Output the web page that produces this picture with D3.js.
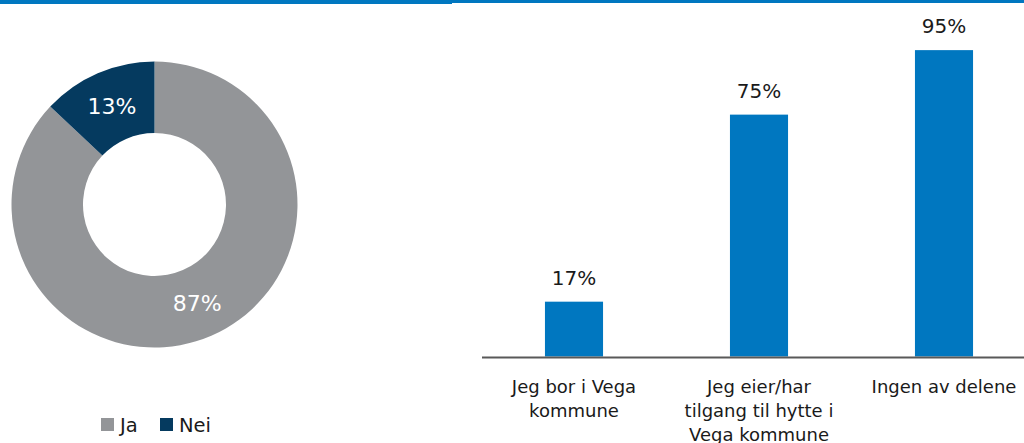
<!DOCTYPE html>
<html>
<head>
<meta charset="utf-8">
<script src="https://cdn.jsdelivr.net/npm/d3@7"></script>
<style>
  html, body { margin: 0; padding: 0; background: #fff; }
  svg { display: block; }
  text { font-family: "DejaVu Sans", "Noto Sans", sans-serif; fill: #1a1a1a; }
</style>
</head>
<body>
<svg id="chart" width="1024" height="443"></svg>
<script>
// Donut data
const donutLabels = ["Ja", "Nei"];
const donutValues = [87, 13];
const donutColors = ["#939598", "#053A5F"];

// Bar data
const barCategories = [
  ["Jeg bor i Vega", "kommune"],
  ["Jeg eier/har", "tilgang til hytte i", "Vega kommune"],
  ["Ingen av delene"]
];
const barValues = [17, 75, 95];
const barColor = "#0077C0";

const svg = d3.select("#chart");

// top accent lines
svg.append("rect").attr("x", 0).attr("y", 0).attr("width", 452).attr("height", 4).attr("fill", barColor);
svg.append("rect").attr("x", 452).attr("y", 0).attr("width", 572).attr("height", 3).attr("fill", barColor);

// ----- Donut -----
const cx = 154.5, cy = 204.5, rOuter = 143, rInner = 71.5;
const pie = d3.pie().sort(null).value(d => d.v);
const arcs = pie(donutValues.map((v, i) => ({ v, label: donutLabels[i], color: donutColors[i] })));
const arc = d3.arc().innerRadius(rInner).outerRadius(rOuter);
const g = svg.append("g").attr("transform", `translate(${cx},${cy})`);
g.selectAll("path").data(arcs).join("path")
  .attr("d", arc).attr("fill", d => d.data.color);
g.selectAll("text.pl").data(arcs).join("text")
  .attr("class", "pl")
  .attr("transform", d => `translate(${arc.centroid(d)})`)
  .attr("text-anchor", "middle")
  .attr("dy", "0.36em")
  .style("font-size", "22px")
  .style("fill", "#ffffff")
  .text(d => d.data.v + "%");

// Legend
const legend = svg.append("g");
const legX = [101, 160];
donutLabels.forEach((l, i) => {
  legend.append("rect").attr("x", legX[i]).attr("y", 418).attr("width", 13).attr("height", 13).attr("fill", donutColors[i]);
  legend.append("text").attr("x", legX[i] + 19).attr("y", 432).style("font-size", "19.5px").text(l);
});

// ----- Bars -----
const x = d3.scaleBand().domain(d3.range(barValues.length))
  .range([481.5, 1036.5]).paddingInner(0.686).paddingOuter(0.343);
const y = d3.scaleLinear().domain([0, 100]).range([356.5, 34]);

svg.selectAll("rect.bar").data(barValues).join("rect")
  .attr("class", "bar")
  .attr("x", (d, i) => x(i))
  .attr("width", x.bandwidth())
  .attr("y", d => y(d))
  .attr("height", d => y(0) - y(d))
  .attr("fill", barColor);

svg.selectAll("text.val").data(barValues).join("text")
  .attr("class", "val")
  .attr("x", (d, i) => x(i) + x.bandwidth() / 2)
  .attr("y", d => y(d) - 17)
  .attr("text-anchor", "middle")
  .style("font-size", "20px")
  .text(d => d + "%");

// baseline axis
const axis = d3.axisBottom(x).tickSize(0).tickFormat("");
const axG = svg.append("g").attr("transform", `translate(0,${y(0) + 0.5})`).call(axis);
axG.select(".domain").attr("stroke", "#595959").attr("stroke-width", 2);

// category labels
barCategories.forEach((lines, i) => {
  const t = svg.append("text")
    .attr("x", x(i) + x.bandwidth() / 2)
    .attr("y", 392.5)
    .attr("text-anchor", "middle")
    .style("font-size", "18px");
  lines.forEach((ln, j) => {
    t.append("tspan").attr("x", x(i) + x.bandwidth() / 2).attr("dy", j === 0 ? 0 : 24).text(ln);
  });
});
</script>
</body>
</html>
